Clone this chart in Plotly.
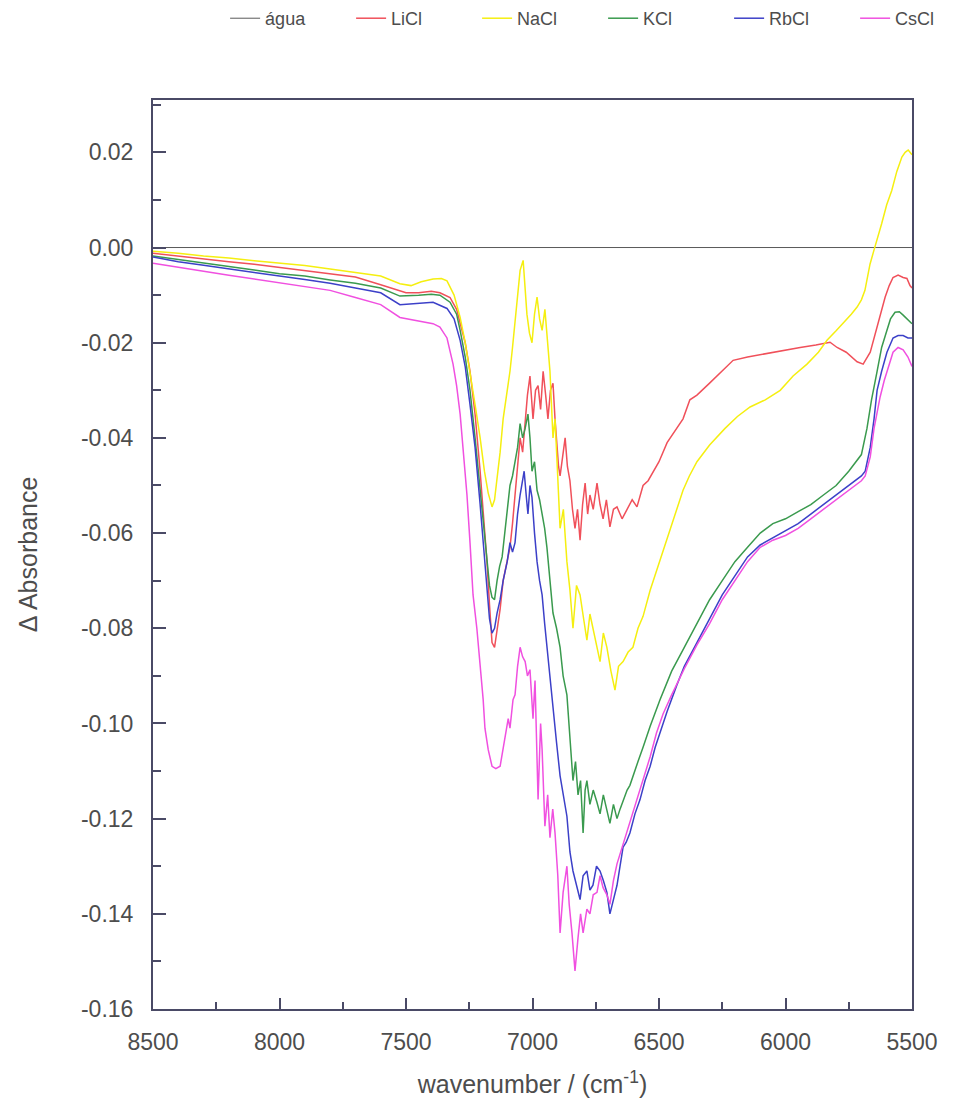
import plotly.graph_objects as go

# ---- data (wavenumber cm^-1, delta absorbance) ----
agua = [(8500, 0.0), (7000, 0.0), (5500, 0.0)]

licl = [(8500, -0.0012), (8400, -0.0018), (8300, -0.0025), (8200, -0.003), (8100, -0.0035),
        (8000, -0.0042), (7900, -0.0048), (7800, -0.0055), (7700, -0.0062), (7600, -0.0078),
        (7500, -0.0095), (7450, -0.0095), (7400, -0.0092), (7366, -0.0095), (7326, -0.0105),
        (7300, -0.013), (7286, -0.016), (7266, -0.020), (7247, -0.026), (7227, -0.035),
        (7207, -0.047), (7190, -0.058), (7180, -0.066), (7170, -0.075), (7160, -0.083),
        (7150, -0.084), (7140, -0.080), (7128, -0.076), (7116, -0.070), (7100, -0.066),
        (7089, -0.063), (7079, -0.058), (7069, -0.052), (7059, -0.046), (7049, -0.040),
        (7039, -0.043), (7029, -0.036), (7020, -0.031), (7010, -0.027), (6998, -0.036),
        (6988, -0.030), (6978, -0.029), (6968, -0.034), (6958, -0.026), (6948, -0.031),
        (6939, -0.036), (6929, -0.030), (6919, -0.0285), (6911, -0.036), (6903, -0.042),
        (6897, -0.046), (6891, -0.048), (6881, -0.044), (6871, -0.040), (6862, -0.046),
        (6852, -0.049), (6842, -0.055), (6832, -0.059), (6822, -0.055), (6812, -0.0615),
        (6802, -0.054), (6792, -0.0495), (6782, -0.056), (6773, -0.052), (6760, -0.055),
        (6745, -0.0495), (6733, -0.054), (6721, -0.057), (6708, -0.053), (6694, -0.0587),
        (6680, -0.055), (6666, -0.0545), (6646, -0.057), (6626, -0.055), (6606, -0.053),
        (6587, -0.0545), (6575, -0.052), (6563, -0.050), (6543, -0.049), (6523, -0.047),
        (6500, -0.045), (6468, -0.041), (6430, -0.038), (6405, -0.036), (6378, -0.032),
        (6350, -0.031), (6300, -0.0285), (6250, -0.026), (6207, -0.0237), (6150, -0.023),
        (6073, -0.0222), (6000, -0.0215), (5942, -0.021), (5880, -0.0205), (5824, -0.0199),
        (5796, -0.021), (5760, -0.022), (5717, -0.024), (5693, -0.0245), (5665, -0.022),
        (5638, -0.0167), (5620, -0.013), (5606, -0.0104), (5590, -0.008), (5575, -0.0063),
        (5555, -0.0058), (5535, -0.0063), (5520, -0.0065), (5508, -0.008), (5500, -0.0085)]

nacl = [(8500, -0.0008), (8400, -0.0012), (8300, -0.0018), (8200, -0.0022), (8100, -0.0028),
        (8000, -0.0033), (7900, -0.0038), (7800, -0.0045), (7700, -0.0052), (7600, -0.006),
        (7524, -0.0076), (7480, -0.008), (7440, -0.0072), (7393, -0.0066), (7360, -0.0065),
        (7338, -0.007), (7310, -0.010), (7286, -0.0147), (7266, -0.020), (7247, -0.026),
        (7227, -0.033), (7207, -0.040), (7190, -0.047), (7175, -0.0516), (7160, -0.0545),
        (7150, -0.053), (7140, -0.049), (7128, -0.043), (7116, -0.036), (7100, -0.030),
        (7089, -0.026), (7079, -0.021), (7069, -0.016), (7059, -0.010), (7049, -0.0048),
        (7037, -0.0027), (7029, -0.008), (7022, -0.014), (7012, -0.018), (7002, -0.020),
        (6992, -0.014), (6982, -0.0104), (6972, -0.015), (6962, -0.0174), (6951, -0.013),
        (6941, -0.020), (6931, -0.026), (6919, -0.040), (6911, -0.036), (6903, -0.045),
        (6891, -0.059), (6878, -0.055), (6864, -0.066), (6852, -0.072), (6840, -0.080),
        (6826, -0.071), (6812, -0.073), (6798, -0.078), (6785, -0.0825), (6773, -0.077),
        (6761, -0.080), (6747, -0.083), (6733, -0.087), (6720, -0.081), (6706, -0.084),
        (6690, -0.089), (6674, -0.093), (6660, -0.088), (6642, -0.087), (6622, -0.085),
        (6603, -0.084), (6583, -0.080), (6563, -0.0775), (6535, -0.072), (6508, -0.0677),
        (6480, -0.063), (6456, -0.059), (6430, -0.055), (6405, -0.051), (6380, -0.048),
        (6350, -0.045), (6300, -0.0415), (6239, -0.038), (6190, -0.0355), (6140, -0.0335),
        (6080, -0.032), (6021, -0.030), (5970, -0.027), (5915, -0.0245), (5870, -0.022),
        (5836, -0.0195), (5800, -0.0175), (5773, -0.016), (5740, -0.014), (5717, -0.0125),
        (5700, -0.011), (5686, -0.009), (5676, -0.006), (5666, -0.0035), (5650, -0.0005),
        (5638, 0.0015), (5620, 0.005), (5600, 0.009), (5580, 0.012), (5560, 0.016),
        (5540, 0.019), (5527, 0.020), (5515, 0.0205), (5500, 0.0195)]

kcl = [(8500, -0.0018), (8400, -0.0025), (8300, -0.0032), (8200, -0.004), (8100, -0.0047),
       (8000, -0.0055), (7900, -0.006), (7800, -0.0068), (7700, -0.0075), (7600, -0.0085),
       (7524, -0.0102), (7450, -0.010), (7400, -0.0098), (7366, -0.010), (7326, -0.0115),
       (7300, -0.014), (7286, -0.0174), (7266, -0.023), (7247, -0.030), (7227, -0.040),
       (7207, -0.051), (7190, -0.060), (7180, -0.066), (7170, -0.071), (7160, -0.0735),
       (7150, -0.074), (7140, -0.070), (7130, -0.067), (7120, -0.065), (7110, -0.060),
       (7100, -0.0545), (7089, -0.050), (7079, -0.048), (7069, -0.0447), (7059, -0.042),
       (7049, -0.037), (7039, -0.040), (7029, -0.038), (7018, -0.035), (7010, -0.040),
       (7002, -0.047), (6992, -0.045), (6982, -0.051), (6972, -0.053), (6962, -0.056),
       (6952, -0.059), (6943, -0.063), (6931, -0.070), (6919, -0.0768), (6905, -0.080),
       (6891, -0.084), (6879, -0.090), (6864, -0.094), (6852, -0.103), (6840, -0.112),
       (6830, -0.108), (6820, -0.115), (6810, -0.112), (6800, -0.123), (6792, -0.114),
       (6785, -0.112), (6773, -0.117), (6760, -0.114), (6745, -0.1166), (6733, -0.119),
       (6720, -0.115), (6706, -0.118), (6694, -0.121), (6680, -0.117), (6666, -0.120),
       (6654, -0.118), (6640, -0.116), (6626, -0.114), (6615, -0.113), (6603, -0.111),
       (6583, -0.108), (6563, -0.105), (6535, -0.1006), (6496, -0.095), (6450, -0.089),
       (6400, -0.084), (6350, -0.079), (6300, -0.074), (6250, -0.070), (6200, -0.066),
       (6150, -0.063), (6100, -0.060), (6050, -0.058), (6000, -0.057), (5950, -0.0555),
       (5900, -0.054), (5850, -0.052), (5800, -0.050), (5750, -0.047), (5720, -0.045),
       (5700, -0.0435), (5678, -0.038), (5660, -0.032), (5638, -0.026), (5620, -0.021),
       (5599, -0.0174), (5585, -0.015), (5567, -0.0136), (5550, -0.0135), (5535, -0.0142),
       (5516, -0.0153), (5500, -0.016)]

rbcl = [(8500, -0.002), (8400, -0.003), (8300, -0.0037), (8200, -0.0045), (8100, -0.0052),
        (8000, -0.006), (7900, -0.0067), (7800, -0.0075), (7700, -0.0085), (7600, -0.0095),
        (7524, -0.012), (7450, -0.0118), (7393, -0.0115), (7338, -0.0128), (7310, -0.015),
        (7286, -0.0195), (7266, -0.025), (7247, -0.033), (7227, -0.042), (7207, -0.054),
        (7190, -0.065), (7180, -0.073), (7170, -0.078), (7160, -0.081), (7150, -0.080),
        (7140, -0.0768), (7128, -0.074), (7116, -0.070), (7100, -0.066), (7089, -0.062),
        (7079, -0.064), (7069, -0.062), (7059, -0.056), (7049, -0.052), (7040, -0.049),
        (7033, -0.047), (7025, -0.052), (7018, -0.056), (7010, -0.050), (7002, -0.0525),
        (6992, -0.060), (6982, -0.066), (6972, -0.070), (6962, -0.073), (6952, -0.079),
        (6943, -0.084), (6931, -0.090), (6919, -0.097), (6905, -0.104), (6891, -0.111),
        (6878, -0.115), (6864, -0.1195), (6852, -0.127), (6840, -0.131), (6826, -0.134),
        (6812, -0.137), (6800, -0.132), (6785, -0.131), (6773, -0.135), (6761, -0.134),
        (6747, -0.130), (6733, -0.131), (6720, -0.133), (6706, -0.1355), (6694, -0.140),
        (6680, -0.137), (6666, -0.134), (6654, -0.130), (6642, -0.126), (6630, -0.125),
        (6615, -0.123), (6595, -0.119), (6575, -0.116), (6555, -0.112), (6535, -0.109),
        (6515, -0.105), (6496, -0.102), (6468, -0.0975), (6430, -0.092), (6400, -0.088),
        (6350, -0.083), (6300, -0.078), (6250, -0.073), (6200, -0.069), (6150, -0.065),
        (6100, -0.0625), (6050, -0.061), (6000, -0.0595), (5950, -0.058), (5900, -0.056),
        (5850, -0.054), (5800, -0.052), (5750, -0.050), (5700, -0.048), (5685, -0.047),
        (5665, -0.042), (5650, -0.036), (5638, -0.030), (5620, -0.026), (5599, -0.022),
        (5575, -0.019), (5555, -0.0185), (5535, -0.0185), (5516, -0.019), (5500, -0.019)]

cscl = [(8500, -0.0033), (8400, -0.0042), (8300, -0.005), (8200, -0.0058), (8100, -0.0066),
        (8000, -0.0075), (7900, -0.0082), (7800, -0.009), (7700, -0.0105), (7600, -0.012),
        (7524, -0.0147), (7450, -0.0155), (7393, -0.016), (7366, -0.0167), (7338, -0.019),
        (7314, -0.0245), (7300, -0.029), (7286, -0.035), (7270, -0.045), (7259, -0.052),
        (7247, -0.062), (7235, -0.073), (7220, -0.080), (7207, -0.087), (7195, -0.095),
        (7188, -0.101), (7175, -0.1055), (7160, -0.109), (7145, -0.1095), (7128, -0.109),
        (7116, -0.1055), (7096, -0.099), (7089, -0.101), (7077, -0.095), (7069, -0.094),
        (7059, -0.088), (7049, -0.084), (7039, -0.086), (7029, -0.087), (7020, -0.090),
        (7010, -0.0887), (6998, -0.099), (6990, -0.091), (6978, -0.116), (6968, -0.100),
        (6962, -0.1055), (6951, -0.1216), (6940, -0.115), (6931, -0.124), (6920, -0.118),
        (6911, -0.123), (6900, -0.132), (6891, -0.144), (6879, -0.1355), (6864, -0.130),
        (6855, -0.138), (6844, -0.144), (6832, -0.152), (6820, -0.145), (6810, -0.140),
        (6800, -0.144), (6785, -0.139), (6773, -0.140), (6760, -0.136), (6745, -0.1355),
        (6733, -0.132), (6721, -0.1345), (6706, -0.136), (6694, -0.138), (6680, -0.133),
        (6666, -0.1295), (6646, -0.126), (6626, -0.1227), (6606, -0.119), (6587, -0.116),
        (6560, -0.111), (6535, -0.107), (6510, -0.102), (6484, -0.098), (6450, -0.094),
        (6400, -0.0885), (6350, -0.0835), (6300, -0.079), (6250, -0.074), (6200, -0.070),
        (6150, -0.066), (6100, -0.063), (6050, -0.0615), (6000, -0.0605), (5950, -0.059),
        (5900, -0.057), (5850, -0.055), (5800, -0.053), (5750, -0.051), (5700, -0.049),
        (5685, -0.048), (5665, -0.044), (5650, -0.038), (5626, -0.0314), (5610, -0.028),
        (5590, -0.0245), (5575, -0.022), (5555, -0.021), (5535, -0.0215), (5516, -0.023),
        (5500, -0.025)]

series_names = ["água", "LiCl", "NaCl", "KCl", "RbCl", "CsCl"]
series_data = [agua, licl, nacl, kcl, rbcl, cscl]
series_colors = ["#5a5a5a", "#f0505a", "#f5ef10", "#3a9a4e", "#3c40c8", "#f050e0"]

x_ticks = [8500, 8000, 7500, 7000, 6500, 6000, 5500]
y_ticks = [0.02, 0.00, -0.02, -0.04, -0.06, -0.08, -0.10, -0.12, -0.14, -0.16]

fig = go.Figure()
for name, data, color in zip(series_names, series_data, series_colors):
    fig.add_trace(go.Scatter(
        x=[p[0] for p in data], y=[p[1] for p in data], name=name, mode="lines",
        line=dict(color=color, width=1.0 if name == "água" else 1.5),
    ))

axis_col = "#4a4a66"
font_col = "#4d4d4d"
fig.update_layout(
    width=964, height=1106,
    margin=dict(l=153, r=52, t=100, b=97, autoexpand=False),
    paper_bgcolor="white", plot_bgcolor="white",
    font=dict(family="Liberation Sans, Arial, sans-serif", color=font_col, size=18),
    legend=dict(orientation="h", x=0.095, y=1.11, xanchor="left", yanchor="top",
                font=dict(size=18, color=font_col), entrywidth=81,
                bgcolor="rgba(0,0,0,0)", tracegroupgap=0),
    xaxis=dict(
        range=[8500, 5500], tickvals=x_ticks, ticktext=[str(v) for v in x_ticks],
        ticks="inside", ticklen=11, tickwidth=1.5, tickcolor=axis_col,
        minor=dict(dtick=250, ticks="inside", ticklen=7, tickwidth=1.5, tickcolor=axis_col),
        showline=True, linecolor=axis_col, linewidth=2, mirror=True,
        showgrid=False, zeroline=False, automargin=False,
        tickfont=dict(size=23, color=font_col), ticklabelstandoff=11,
        title=dict(text="wavenumber / (cm<sup>-1</sup>)", font=dict(size=25, color=font_col), standoff=22),
    ),
    yaxis=dict(
        range=[-0.16, 0.031], tickvals=y_ticks, ticktext=[f"{v:.2f}" for v in y_ticks],
        ticks="inside", ticklen=13, tickwidth=1.5, tickcolor=axis_col,
        minor=dict(dtick=0.01, tick0=0, ticks="inside", ticklen=8, tickwidth=1.5, tickcolor=axis_col),
        showline=True, linecolor=axis_col, linewidth=2, mirror=True,
        showgrid=False, zeroline=False, automargin=False,
        tickfont=dict(size=23, color=font_col), ticklabelstandoff=13,
        title=dict(text="Δ Absorbance", font=dict(size=25, color=font_col), standoff=36),
    ),
)

fig.write_html("out.html")
